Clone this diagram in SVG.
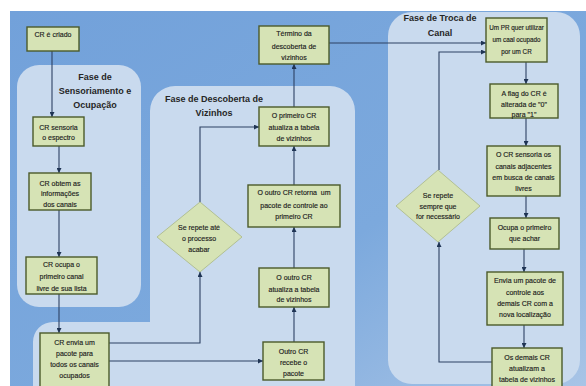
<svg xmlns="http://www.w3.org/2000/svg" width="586" height="386" viewBox="0 0 586 386">
<defs>
<linearGradient id="bg" x1="0" y1="0" x2="1" y2="1">
<stop offset="0" stop-color="#72a1da"/>
<stop offset="0.6" stop-color="#7ca9dd"/>
<stop offset="1" stop-color="#a8c4e6"/>
</linearGradient>
<marker id="arr" viewBox="0 0 6 6" refX="6" refY="3" markerWidth="5" markerHeight="5" orient="auto" markerUnits="userSpaceOnUse">
<path d="M0,0 L6,3 L0,6 Z" fill="#1f3454"/>
</marker>
<style>
.panel{fill:#c9daee}
.box{fill:#d6e3b5;stroke:#4b5a2a;stroke-width:1.4}
.dia{fill:#d6e3b5;stroke:#a9b884;stroke-width:0.8}
.t{font-family:"Liberation Sans",Arial,sans-serif;font-size:7px;fill:#1c1c1c;stroke:#1c1c1c;stroke-width:0.15;text-anchor:middle}
.s{font-size:6.3px}
.h{font-family:"Liberation Sans",Arial,sans-serif;font-size:9px;font-weight:bold;fill:#262626;text-anchor:middle}
.c{fill:none;stroke:#2c4163;stroke-width:1.1}
</style>
</defs>
<rect x="0" y="0" width="586" height="386" fill="#ffffff"/>
<rect x="10" y="11" width="576" height="375" fill="url(#bg)"/>

<g id="panels">
<rect class="panel" x="17" y="65" width="124" height="242" rx="22"/>
<path class="panel" d="M150,111 A25,25 0 0 1 175,86 H330 A25,25 0 0 1 355,111 V386 H33 V342 A20,20 0 0 1 53,322 H150 Z"/>
<rect class="panel" x="388" y="12" width="192" height="372" rx="24"/>
</g>

<g id="titles">
<text class="h" x="95" y="80">Fase de</text>
<text class="h" x="95" y="94">Sensoriamento e</text>
<text class="h" x="95" y="108">Ocupação</text>
<text class="h" x="214" y="102">Fase de Descoberta de</text>
<text class="h" x="214" y="116">Vizinhos</text>
<text class="h" x="440" y="21">Fase de Troca de</text>
<text class="h" x="440" y="36">Canal</text>
</g>

<g id="connectors">
<path class="c" d="M52,51 V117" marker-end="url(#arr)"/>
<path class="c" d="M59,146 V173" marker-end="url(#arr)"/>
<path class="c" d="M59,210 V257" marker-end="url(#arr)"/>
<path class="c" d="M59,294 V333" marker-end="url(#arr)"/>
<path class="c" d="M109,361 H263" marker-end="url(#arr)"/>
<path class="c" d="M109,343 H200 V272" marker-end="url(#arr)"/>
<path class="c" d="M200,202 V127 H259" marker-end="url(#arr)"/>
<path class="c" d="M294,342 V307" marker-end="url(#arr)"/>
<path class="c" d="M294,268 V227" marker-end="url(#arr)"/>
<path class="c" d="M294,185 V146" marker-end="url(#arr)"/>
<path class="c" d="M294,107 V64" marker-end="url(#arr)"/>
<path class="c" d="M329,43 H486" marker-end="url(#arr)"/>
<path class="c" d="M439,170 V52 H486" marker-end="url(#arr)"/>
<path class="c" d="M526,62 V84" marker-end="url(#arr)"/>
<path class="c" d="M526,118 V146" marker-end="url(#arr)"/>
<path class="c" d="M526,196 V218" marker-end="url(#arr)"/>
<path class="c" d="M524,249 V272" marker-end="url(#arr)"/>
<path class="c" d="M524,325 V348" marker-end="url(#arr)"/>
<path class="c" d="M492,362 H439 V242" marker-end="url(#arr)"/>
</g>

<g id="n1"><rect class="box" x="27" y="27" width="52" height="24"/>
<text class="t" x="53" y="37">CR é criado</text></g>

<g id="n2"><rect class="box" x="33" y="117" width="51" height="29"/>
<text class="t" x="58.5" y="130">CR sensoria</text>
<text class="t" x="58.5" y="140">o espectro</text></g>

<g id="n3"><rect class="box" x="29" y="173" width="62" height="37"/>
<text class="t" x="60" y="185.5">CR obtem as</text>
<text class="t" x="60" y="196">informações</text>
<text class="t" x="60" y="206.5">dos canais</text></g>

<g id="n4"><rect class="box" x="26" y="257" width="71" height="37"/>
<text class="t" x="61.5" y="267">CR ocupa o</text>
<text class="t" x="61.5" y="279">primeiro canal</text>
<text class="t" x="61.5" y="291">livre de sua lista</text></g>

<g id="n5"><rect class="box" x="40" y="333" width="69" height="56"/>
<text class="t" x="74.5" y="345">CR envia um</text>
<text class="t" x="74.5" y="356">pacote para</text>
<text class="t" x="74.5" y="367">todos os canais</text>
<text class="t" x="74.5" y="378">ocupados</text></g>

<g id="n6"><rect class="box" x="259" y="26" width="70" height="38"/>
<text class="t" x="294" y="36">Término da</text>
<text class="t" x="294" y="48.5">descoberta de</text>
<text class="t" x="294" y="60">vizinhos</text></g>

<g id="n7"><rect class="box" x="259" y="107" width="70" height="39"/>
<text class="t" x="294" y="118">O primeiro CR</text>
<text class="t" x="294" y="130">atualiza a tabela</text>
<text class="t" x="294" y="141">de vizinhos</text></g>

<g id="n8"><rect class="box" x="248" y="185" width="92" height="42"/>
<text class="t" x="294" y="195" xml:space="preserve">O outro CR retorna  um</text>
<text class="t" x="294" y="208">pacote de controle ao</text>
<text class="t" x="294" y="219">primeiro CR</text></g>

<g id="n9"><rect class="box" x="259" y="268" width="70" height="39"/>
<text class="t" x="294" y="280">O outro CR</text>
<text class="t" x="294" y="292">atualiza a tabela</text>
<text class="t" x="294" y="302">de vizinhos</text></g>

<g id="n10"><rect class="box" x="263" y="342" width="61" height="38"/>
<text class="t" x="293.5" y="354">Outro CR</text>
<text class="t" x="293.5" y="365">recebe o</text>
<text class="t" x="293.5" y="376">pacote</text></g>

<g id="n11"><polygon class="dia" points="200,202 242,237 200,272 157,237"/>
<text class="t" x="199" y="230">Se repete até</text>
<text class="t" x="199" y="241">o processo</text>
<text class="t" x="199" y="252">acabar</text></g>

<g id="n12"><rect class="box" x="486" y="18" width="61" height="44"/>
<text class="t s" x="516.5" y="30">Um PR quer utilizar</text>
<text class="t s" x="516.5" y="42">um caal ocupado</text>
<text class="t s" x="516.5" y="54">por um CR</text></g>

<g id="n13"><rect class="box" x="490" y="84" width="68" height="34"/>
<text class="t" x="524" y="96">A flag do CR é</text>
<text class="t" x="524" y="107">alterada de "0"</text>
<text class="t" x="524" y="117">para "1"</text></g>

<g id="n14"><rect class="box" x="487" y="146" width="73" height="50"/>
<text class="t" x="523.5" y="157">O CR sensoria os</text>
<text class="t" x="523.5" y="169">canais adjacentes</text>
<text class="t" x="523.5" y="180">em busca de canais</text>
<text class="t" x="523.5" y="191">livres</text></g>

<g id="n15"><rect class="box" x="490" y="218" width="69" height="31"/>
<text class="t" x="524.5" y="230">Ocupa o primeiro</text>
<text class="t" x="524.5" y="241">que achar</text></g>

<g id="n16"><rect class="box" x="487" y="272" width="76" height="53"/>
<text class="t" x="525" y="283">Envia um pacote de</text>
<text class="t" x="525" y="295">controle aos</text>
<text class="t" x="525" y="306">demais CR com a</text>
<text class="t" x="525" y="317">nova localização</text></g>

<g id="n17"><rect class="box" x="492" y="348" width="70" height="42"/>
<text class="t" x="527" y="360">Os demais CR</text>
<text class="t" x="527" y="371">atualizam a</text>
<text class="t" x="527" y="382">tabela de vizinhos</text></g>

<g id="n18"><polygon class="dia" points="438,170 480,206 438,242 396,206"/>
<text class="t" x="438" y="198">Se repete</text>
<text class="t" x="438" y="209">sempre que</text>
<text class="t" x="438" y="219">for necessário</text></g>
</svg>
